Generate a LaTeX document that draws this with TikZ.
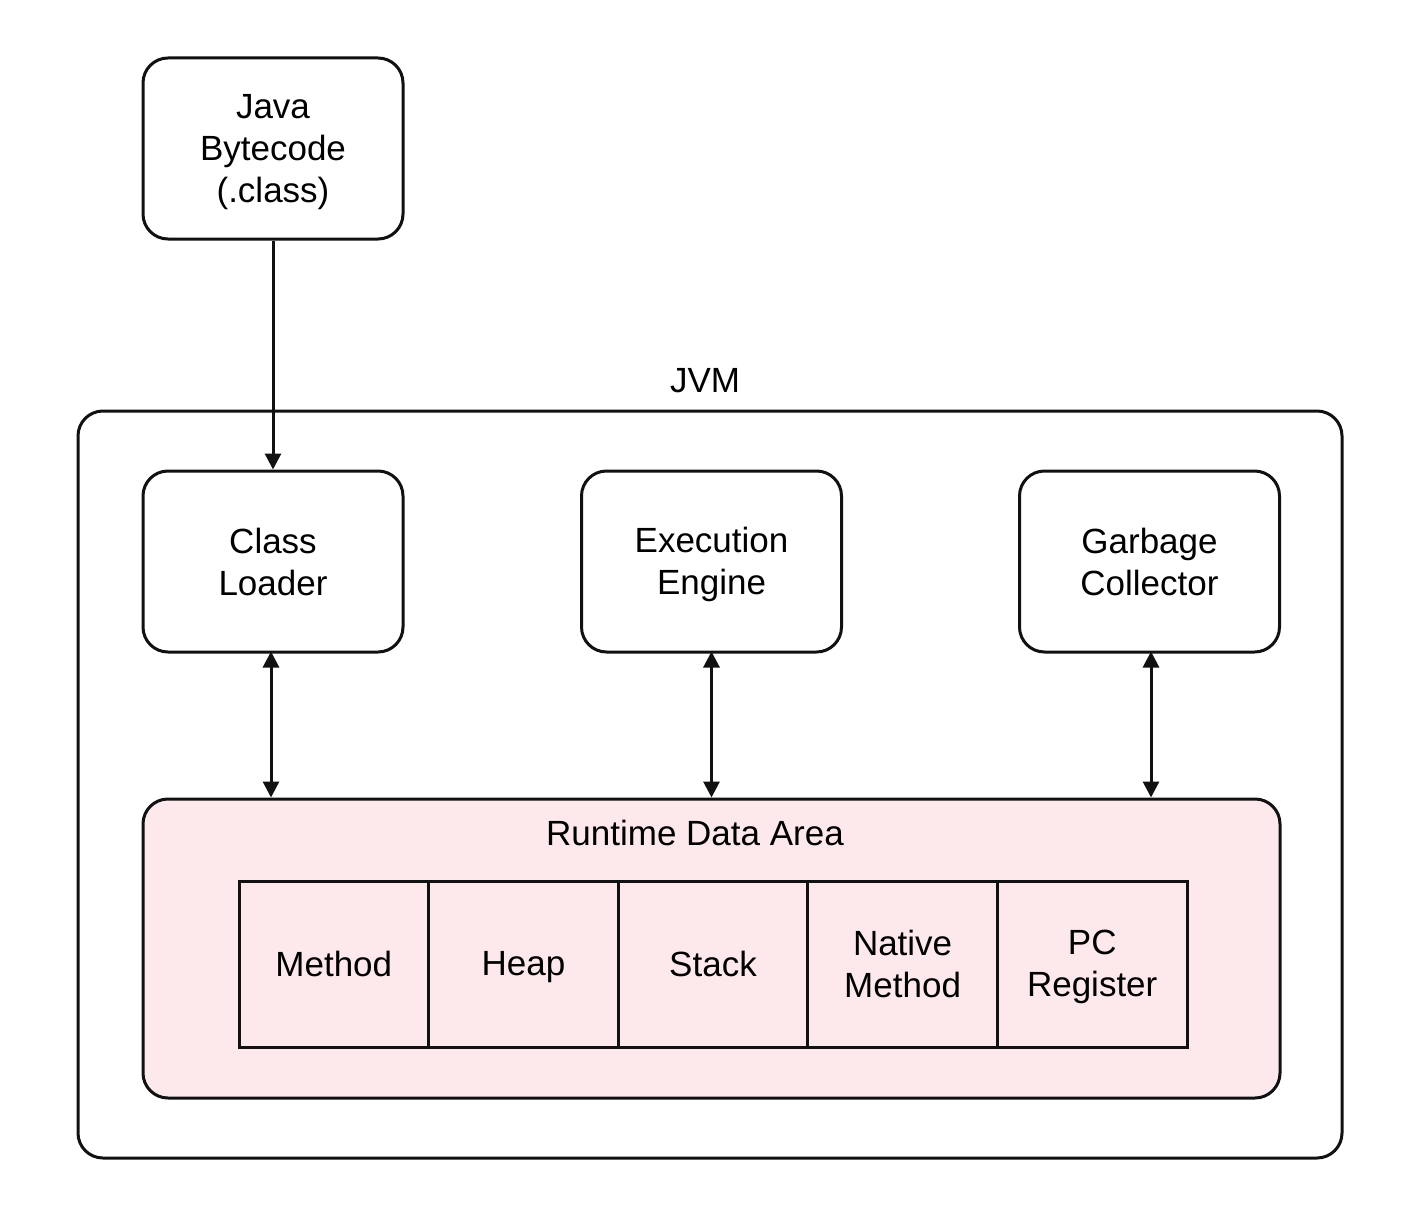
\documentclass[tikz,border=0pt]{standalone}
\usepackage{fontspec}
\setmainfont{Liberation Sans}
\usetikzlibrary{arrows.meta}
\definecolor{rdapink}{HTML}{FDE8EB}
\definecolor{strokec}{HTML}{111111}
\newcommand\ls{\rule[-6pt]{0pt}{37pt}}
\tikzset{
  txt/.style={font=\fontsize{35}{42}\selectfont},
  box/.style={txt, draw=strokec, line width=3pt, rounded corners=25pt, minimum width=260pt, minimum height=181pt, align=center, inner sep=0pt},
  cell/.style={txt, draw=strokec, line width=3pt, minimum width=189.6pt, minimum height=166pt, align=center, inner sep=0pt, outer sep=0pt},
  lbl/.style={txt, inner sep=0pt, anchor=base},
  conn/.style={draw=strokec, line width=3pt, -{Triangle[width=16pt,length=16pt]}},
  biconn/.style={draw=strokec, line width=3pt, {Triangle[width=16pt,length=16pt]}-{Triangle[width=16pt,length=16pt]}}
}
\begin{document}
\begin{tikzpicture}[x=1pt,y=-1pt]
\useasboundingbox[fill=white] (0,0) rectangle (1418,1223);
% JVM container
\node[draw=strokec, line width=3pt, rounded corners=25pt, minimum width=1264pt, minimum height=747pt, inner sep=0pt] (jvm) at (710,784.5) {};
\node[lbl] (jvmlabel) at (705,392.5) {JVM};
% Runtime data area
\node[draw=strokec, fill=rdapink, line width=3pt, rounded corners=25pt, minimum width=1137pt, minimum height=299pt, inner sep=0pt] (rda) at (711.5,948.5) {};
\node[lbl] (rdalabel) at (695,845.5) {Runtime Data Area};
% Boxes
\node[box] (java) at (273,148.5) {\ls Java\\\ls Bytecode\\\ls (.class)};
\node[box] (cl) at (273,561.5) {\ls Class\\\ls Loader};
\node[box] (ee) at (711.5,561.5) {\ls Execution\\\ls Engine};
\node[box] (gc) at (1149.5,561.5) {\ls Garbage\\\ls Collector};
% Cells
\node[cell, anchor=west] (c1) at (239,964) {\ls Method};
\node[cell, anchor=west] (c2) at (c1.east) {\ls Heap};
\node[cell, anchor=west] (c3) at (c2.east) {\ls Stack};
\node[cell, anchor=west] (c4) at (c3.east) {\ls Native\\\ls Method};
\node[cell, anchor=west] (c5) at (c4.east) {\ls PC\\\ls Register};
% Connectors
\draw[conn] (java.south) -- (cl.north);
\draw[biconn] ([xshift=-2pt,yshift=2pt]cl.south) -- ([xshift=-2pt]cl.south |- rda.north);
\draw[biconn] ([yshift=2pt]ee.south) -- (ee.south |- rda.north);
\draw[biconn] ([xshift=1.5pt,yshift=2pt]gc.south) -- ([xshift=1.5pt]gc.south |- rda.north);
\end{tikzpicture}
\end{document}
